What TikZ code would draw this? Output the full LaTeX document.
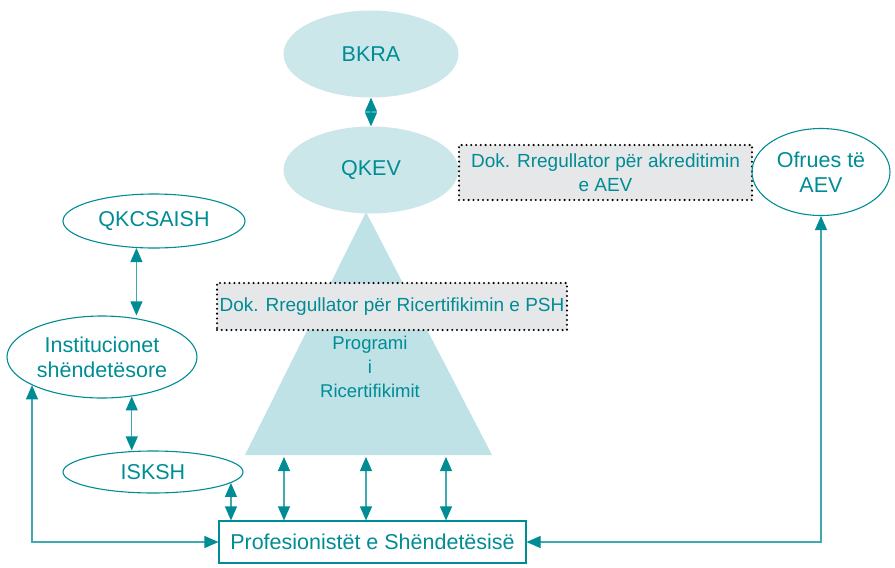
\documentclass[tikz,border=0pt]{standalone}
\usepackage{fontspec}
\setmainfont{Liberation Sans}
\usetikzlibrary{shapes.geometric,arrows.meta}
\definecolor{tealtxt}{HTML}{008C95}
\definecolor{paleblob}{HTML}{CCE7EA}
\definecolor{trifill}{HTML}{BEE2E6}
\definecolor{dokgray}{HTML}{E6E7E8}
\begin{document}
\begin{tikzpicture}[x=1pt, y=-1pt,
    every node/.style={text=tealtxt, font=\fontsize{21.5}{25}\selectfont, align=center},
    blob/.style={ellipse, fill=paleblob, inner sep=0pt},
    oval/.style={ellipse, draw=tealtxt, line width=1.1pt, inner sep=0pt},
    dok/.style={rectangle, draw=black, fill=dokgray, line width=2.3pt,
        dash pattern=on 0pt off 4.8pt, line cap=round, inner sep=0pt,
        font=\fontsize{19}{24}\selectfont},
    arr/.style={{Triangle[length=14pt,width=12pt,color=tealtxt]}-{Triangle[length=14pt,width=12pt,color=tealtxt]},
        draw=tealtxt!75, line width=1.1pt}]
    \useasboundingbox (0,0) rectangle (895,568);

    \fill [trifill](366,212)--(492,455)--(245,455)--cycle;
    \coordinate (t1) at (284,457);
    \coordinate (t2) at (366,457);
    \coordinate (t3) at (446,457);

    \node [blob, minimum width=175, minimum height=87] (bkra)at(371,54) {BKRA};
    \node [blob, minimum width=175, minimum height=87] (qkev)at(371,170) {QKEV};
    \node [dok, minimum width=293, minimum height=55] (dok1)at(605.5,172.5) {Dok. Rregullator për akreditimin\\e AEV};
    \node [oval, minimum width=138, minimum height=87] (ofrues)at(821,172) {Ofrues të\\AEV};

    \node [dok, minimum width=350, minimum height=47] (dok2)at(392,306.5) {Dok. Rregullator për Ricertifikimin e PSH};
    \node [font=\fontsize{18.5}{24}\selectfont] (prog)at(370,367) {Programi\\i\\Ricertifikimit};

    \node [oval, minimum width=182, minimum height=54] (qkcsaish)at(154,221) {QKCSAISH};
    \node [oval, minimum width=190, minimum height=82] (inst)at(102,357) {Institucionet\\shëndetësore};
    \node [oval, minimum width=180, minimum height=42] (isksh)at(153,472) {ISKSH};
    \node [rectangle, draw=tealtxt, line width=1.1pt, minimum width=307, minimum height=42] (prof)at(372.5,542) {Profesionistët e Shëndetësisë};

    \draw [arr](bkra)--(qkev);
    \draw [arr](qkcsaish.237)--(qkcsaish.237 |- inst.north);
    \draw [arr](inst.-53)--(inst.-53 |- isksh.north);
    \draw [arr](isksh.-8)--(isksh.-8 |- prof.north);

    \foreach \t in {t1,t2,t3}{
            \draw [arr](\t)--(\t |- prof.north);
        }

    \draw [arr](inst.202)--(inst.202 |- prof.west)--(prof.west);
    \draw [arr](ofrues.south)--(ofrues.south |- prof.east)--(prof.east);
\end{tikzpicture}
\end{document}
